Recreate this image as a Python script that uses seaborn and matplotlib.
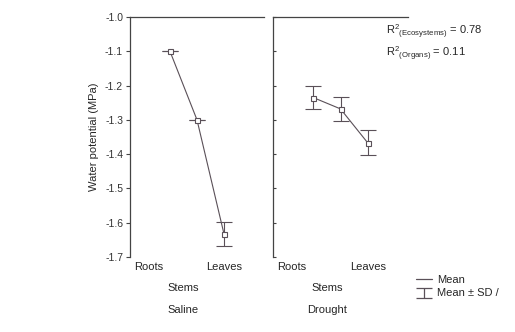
import numpy as np
import pandas as pd
import seaborn as sns
import matplotlib
matplotlib.use("Agg")
from matplotlib import pyplot as plt
from matplotlib.lines import Line2D
from matplotlib.path import Path
import matplotlib.transforms as mtransforms

# values
organs = ["Roots", "Stems", "Leaves"]
saline_mean = [-1.100, -1.300, -1.633]
saline_sd = [0.0, 0.0, 0.035]
drought_mean = [-1.235, -1.268, -1.367]
drought_sd = [0.034, 0.034, 0.036]
treatments = ["Saline", "Drought"]
yticks = [-1.0, -1.1, -1.2, -1.3, -1.4, -1.5, -1.6, -1.7]
r2_eco = 0.78
r2_org = 0.11

sns.set_style("white")
plt.rcParams["font.family"] = ["Liberation Sans Narrow", "Liberation Sans", "DejaVu Sans"]
plt.rcParams["mathtext.default"] = "regular"

col = "#5a5058"
txt = "#262626"

fig = plt.figure(figsize=(5.15, 3.32), dpi=100)
ax1 = fig.add_axes([130/515, 75/332, 134/515, 240/332])
ax2 = fig.add_axes([273/515, 75/332, 135/515, 240/332])

# label offsets for the staggered category names (in category units)
lab_x = [-0.8, 0.5, 2.0]
lab_y = [-0.04, -0.13, -0.04]

for ax, mean, sd, name in [(ax1, saline_mean, saline_sd, treatments[0]),
                           (ax2, drought_mean, drought_sd, treatments[1])]:
    df = pd.DataFrame({"organ": np.arange(len(organs)), "mean": mean, "sd": sd})
    ax.errorbar(df["organ"], df["mean"], yerr=df["sd"], fmt="none", ecolor=col,
                elinewidth=0.8, capsize=6, capthick=0.8, zorder=2)
    sns.lineplot(data=df, x="organ", y="mean", ax=ax, color=col, linewidth=0.8,
                 marker="s", markersize=3.6, markerfacecolor="white",
                 markeredgecolor=col, markeredgewidth=0.8, zorder=3)
    ax.set_xlim(-1.48, 3.48)
    ax.set_ylim(-1.7, -1.0)
    ax.set_xticks([])
    ax.set_xlabel("")
    ax.set_ylabel("")
    for s in ["right", "bottom"]:
        ax.spines[s].set_visible(False)
    for s in ["left", "top"]:
        ax.spines[s].set_color("#444444")
        ax.spines[s].set_linewidth(0.9)
    trans = mtransforms.blended_transform_factory(ax.transData, ax.transAxes)
    for i, o in enumerate(organs):
        ax.text(lab_x[i], lab_y[i], o, transform=trans, ha="center", va="center",
                fontsize=8, color=txt)
    ax.text(0.5, -0.22, name, transform=trans, ha="center", va="center",
            fontsize=8, color=txt)

ax1.set_yticks(yticks)
ax1.set_yticklabels(["%.1f" % v for v in yticks])
ax1.tick_params(axis="y", direction="out", length=3, width=0.8, color="#444444",
                labelsize=7.5, labelcolor="#333333", left=True, pad=2)
ax1.set_ylabel("Water potential (MPa)", fontsize=8, color=txt, labelpad=4)

ax2.set_yticks(yticks)
ax2.set_yticklabels([])
ax2.tick_params(axis="y", direction="in", length=2, width=0.8, color="#444444", left=True)

fig.text(386/515, 1 - 32/332, r"R$^2$$_{(Ecosystems)}$ = %.2f" % r2_eco,
         fontsize=8, va="center", ha="left", color=txt)
fig.text(386/515, 1 - 54/332, r"R$^2$$_{(Organs)}$ = %.2f" % r2_org,
         fontsize=8, va="center", ha="left", color=txt)

# I-beam glyph for the "Mean ± SD" legend entry
ibeam = Path([(-0.7, 0.5), (0.7, 0.5), (0, 0.5), (0, -0.5), (-0.7, -0.5), (0.7, -0.5)],
             [Path.MOVETO, Path.LINETO, Path.MOVETO, Path.LINETO, Path.MOVETO, Path.LINETO])
h_mean = Line2D([], [], color=col, linewidth=0.9)
h_sd = Line2D([], [], linestyle="none", marker=ibeam, markersize=11,
              markerfacecolor="none", markeredgecolor=col, markeredgewidth=0.9)
fig.legend([h_mean, h_sd], ["Mean", "Mean ± SD /"], loc="upper left",
           bbox_to_anchor=(410/515, 1 - 269/332), frameon=False, fontsize=8,
           handlelength=1.5, handletextpad=0.4, labelspacing=0.35, borderpad=0,
           numpoints=1)

fig.savefig("out.png", dpi=100)
